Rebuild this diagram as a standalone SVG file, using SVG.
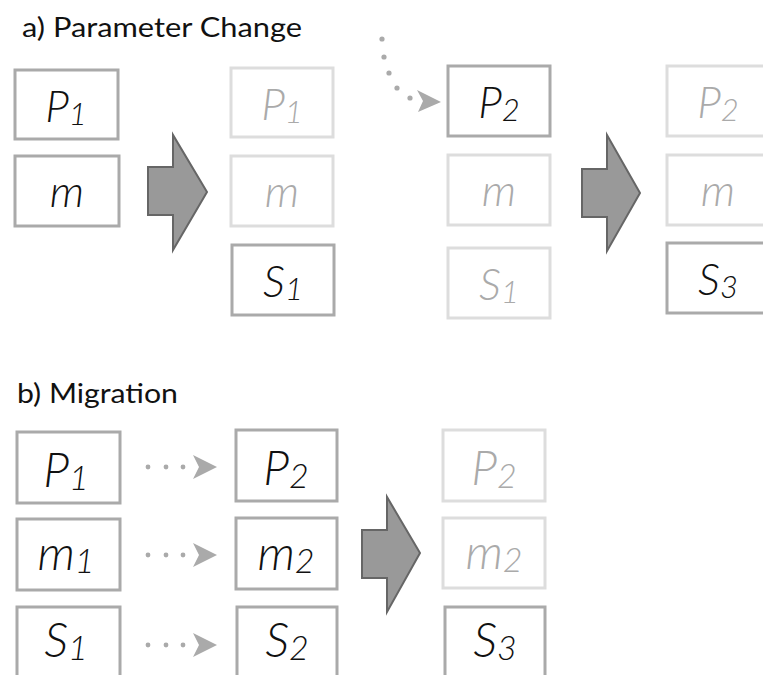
<svg xmlns="http://www.w3.org/2000/svg" width="763" height="675" viewBox="0 0 763 675">
<style>
  .title { font-family: Lato, "Open Sans", sans-serif; font-size: 27px; fill: #111; }
  .box { fill: #fff; stroke: #aaa; stroke-width: 3; }
  .box.faded { stroke: #ddd; }
  .lbl { font-family: Lato, "Open Sans", sans-serif; font-style: italic; font-weight: 300; font-size: 44px; fill: #111; text-anchor: middle; }
  .lbl.b { font-size: 48px; }
  .lbl.faded { fill: #aaa; }
  .sub { font-size: 31px; }
  .b .sub { font-size: 34px; }
  .big { fill: #999; stroke: #666; stroke-width: 2; stroke-linejoin: miter; }
  .dot { fill: #aaa; }
  .head { fill: #aaa; }
</style>
<rect width="763" height="675" fill="#fff"/>
<text class="title" x="22" y="37" textLength="280" lengthAdjust="spacingAndGlyphs">a) Parameter Change</text>
<text class="title" x="17" y="403" textLength="161" lengthAdjust="spacingAndGlyphs">b) Migration</text>

<!-- section a -->
<g id="a-P1"><rect class="box" x="15" y="70" width="103" height="69"/><text class="lbl" x="66" y="122">P<tspan class="sub" dy="3">1</tspan></text></g>
<g id="a-m"><rect class="box" x="15" y="156" width="104" height="70"/><text class="lbl" x="67" y="207">m</text></g>
<g id="a2-P1"><rect class="box faded" x="231" y="68" width="102" height="69"/><text class="lbl faded" x="282" y="120">P<tspan class="sub" dy="3">1</tspan></text></g>
<g id="a2-m"><rect class="box faded" x="231" y="156" width="102" height="70"/><text class="lbl faded" x="282" y="207">m</text></g>
<g id="a2-S1"><rect class="box" x="232" y="245" width="102" height="70"/><text class="lbl" x="283" y="297">S<tspan class="sub" dy="3">1</tspan></text></g>
<g id="a3-P2"><rect class="box" x="448" y="66" width="102" height="70"/><text class="lbl" x="499" y="118">P<tspan class="sub" dy="3">2</tspan></text></g>
<g id="a3-m"><rect class="box faded" x="448" y="155" width="102" height="70"/><text class="lbl faded" x="499" y="206">m</text></g>
<g id="a3-S1"><rect class="box faded" x="448" y="248" width="102" height="70"/><text class="lbl faded" x="499" y="300">S<tspan class="sub" dy="3">1</tspan></text></g>
<g id="a4-P2"><rect class="box faded" x="667" y="66" width="104" height="70"/><text class="lbl faded" x="718" y="118">P<tspan class="sub" dy="3">2</tspan></text></g>
<g id="a4-m"><rect class="box faded" x="667" y="155" width="104" height="70"/><text class="lbl faded" x="718" y="206">m</text></g>
<g id="a4-S3"><rect class="box" x="667" y="243" width="104" height="70"/><text class="lbl" x="718" y="295">S<tspan class="sub" dy="3">3</tspan></text></g>

<!-- section b -->
<g id="b-P1"><rect class="box" x="17" y="432" width="103" height="71"/><text class="lbl b" x="66" y="487">P<tspan class="sub" dy="3">1</tspan></text></g>
<g id="b-m1"><rect class="box" x="17" y="519" width="103" height="71"/><text class="lbl b" x="66" y="570">m<tspan class="sub" dy="3">1</tspan></text></g>
<g id="b-S1"><rect class="box" x="17" y="607" width="103" height="71"/><text class="lbl b" x="66" y="657">S<tspan class="sub" dy="3">1</tspan></text></g>
<g id="b2-P2"><rect class="box" x="236" y="430" width="101" height="71"/><text class="lbl b" x="286" y="485">P<tspan class="sub" dy="3">2</tspan></text></g>
<g id="b2-m2"><rect class="box" x="236" y="518" width="101" height="71"/><text class="lbl b" x="286" y="570">m<tspan class="sub" dy="3">2</tspan></text></g>
<g id="b2-S2"><rect class="box" x="237" y="607" width="100" height="71"/><text class="lbl b" x="287" y="657">S<tspan class="sub" dy="3">2</tspan></text></g>
<g id="b3-P2"><rect class="box faded" x="443" y="430" width="102" height="71"/><text class="lbl b faded" x="494" y="485">P<tspan class="sub" dy="3">2</tspan></text></g>
<g id="b3-m2"><rect class="box faded" x="443" y="518" width="102" height="70"/><text class="lbl b faded" x="494" y="569">m<tspan class="sub" dy="3">2</tspan></text></g>
<g id="b3-S3"><rect class="box" x="445" y="607" width="100" height="71"/><text class="lbl b" x="495" y="657">S<tspan class="sub" dy="3">3</tspan></text></g>

<!-- connectors -->
<g id="connectors">
  <polygon class="big" points="148,167 173,167 173,135 207,192 173,250 173,215 148,215"/>
  <polygon class="big" points="582,169 607,169 607,135 640,193 607,251 607,217 582,217"/>
  <polygon class="big" points="362,530 387,530 387,497 420,553 387,612 387,578 362,578"/>
  <g id="dotted-curve">
    <circle class="dot" cx="382" cy="39" r="2.6"/>
    <circle class="dot" cx="384" cy="57" r="2.6"/>
    <circle class="dot" cx="389" cy="73" r="2.6"/>
    <circle class="dot" cx="397" cy="88" r="2.6"/>
    <circle class="dot" cx="410" cy="98" r="2.6"/>
    <polygon class="head" points="417,90 441,102 418,112 423,101"/>
  </g>
  <g id="dotted-1">
    <circle class="dot" cx="148" cy="467" r="2.4"/><circle class="dot" cx="166" cy="467" r="2.4"/><circle class="dot" cx="183" cy="467" r="2.4"/>
    <polygon class="head" points="193,455 217,467 193,479 199,467"/>
  </g>
  <g id="dotted-2">
    <circle class="dot" cx="148" cy="555" r="2.4"/><circle class="dot" cx="166" cy="555" r="2.4"/><circle class="dot" cx="183" cy="555" r="2.4"/>
    <polygon class="head" points="193,543 217,555 193,567 199,555"/>
  </g>
  <g id="dotted-3">
    <circle class="dot" cx="148" cy="645" r="2.4"/><circle class="dot" cx="166" cy="645" r="2.4"/><circle class="dot" cx="183" cy="645" r="2.4"/>
    <polygon class="head" points="193,633 217,645 193,657 199,645"/>
  </g>
</g>
</svg>
